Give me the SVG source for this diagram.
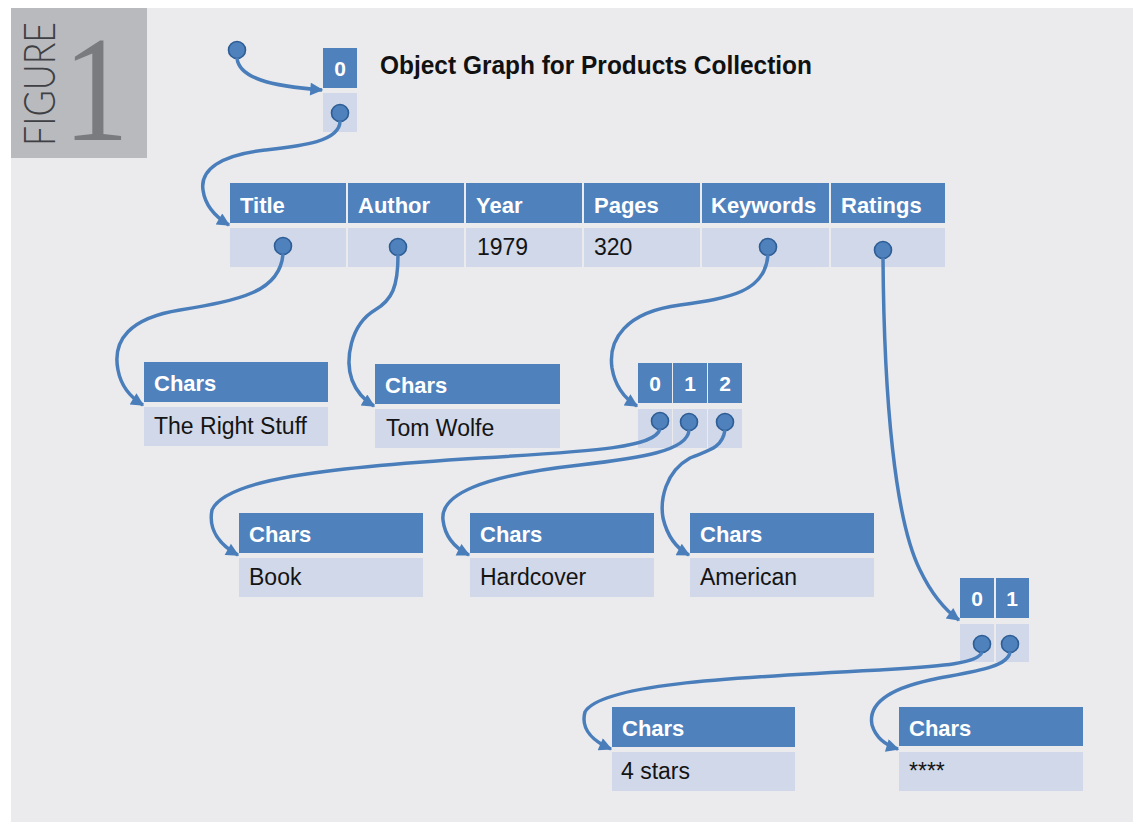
<svg xmlns="http://www.w3.org/2000/svg" width="1133" height="823" viewBox="0 0 1133 823">
<defs>
<style>
.hd{fill:#4f81bd}
.bd{fill:#d0d8e9}
.ht{font-family:"Liberation Sans",Arial,sans-serif;font-weight:bold;font-size:22px;fill:#ffffff}
.bt{font-family:"Liberation Sans",Arial,sans-serif;font-size:23px;fill:#141414}
.ix{font-family:"Liberation Sans",Arial,sans-serif;font-weight:bold;font-size:21px;fill:#ffffff;text-anchor:middle}
.pt{fill:#4f81bd;stroke:#2d5d94;stroke-width:1.6}
.cn path{fill:none;stroke:#4a7ebb;stroke-width:3.5;marker-end:url(#ah)}
</style>
<marker id="ah" viewBox="0 0 10 10" refX="9" refY="5" markerWidth="15" markerHeight="13" markerUnits="userSpaceOnUse" orient="auto">
<path d="M0,0 L10,5 L0,10 z" fill="#4a7ebb"/>
</marker>
</defs>
<rect x="0" y="0" width="1133" height="823" fill="#ffffff"/>
<rect x="11" y="8" width="1122" height="814" fill="#ebebee"/>
<g id="figure-label">
<rect x="11" y="8" width="136" height="150" fill="#b9babd"/>
<text transform="translate(55,146) rotate(-90)" font-family="Lato,'Open Sans',sans-serif" font-weight="300" font-size="44" fill="#3f4043" textLength="124" lengthAdjust="spacingAndGlyphs">FIGURE</text>
<text x="63" y="140" font-family="'Liberation Serif','Times New Roman',serif" font-size="150" fill="#7a7b7f" textLength="66" lengthAdjust="spacingAndGlyphs">1</text>
</g>
<text x="380" y="74" font-family="'Liberation Sans',Arial,sans-serif" font-weight="bold" font-size="26" fill="#111111" textLength="432" lengthAdjust="spacingAndGlyphs">Object Graph for Products Collection</text>

<g id="root">
<circle class="pt" cx="237" cy="50" r="8.5"/>
</g>
<g id="products-array">
<rect class="hd" x="323" y="48" width="34" height="40"/>
<text class="ix" x="340" y="76">0</text>
<rect class="bd" x="323" y="93" width="34" height="39"/>
<circle class="pt" cx="340" cy="113" r="8.5"/>
</g>
<g id="product">
<rect class="hd" x="230" y="183" width="116" height="40"/>
<rect class="hd" x="348" y="183" width="116" height="40"/>
<rect class="hd" x="466" y="183" width="116" height="40"/>
<rect class="hd" x="584" y="183" width="116" height="40"/>
<rect class="hd" x="702" y="183" width="127" height="40"/>
<rect class="hd" x="831" y="183" width="114" height="40"/>
<text class="ht" x="240" y="213">Title</text>
<text class="ht" x="358" y="213">Author</text>
<text class="ht" x="476" y="213">Year</text>
<text class="ht" x="594" y="213">Pages</text>
<text class="ht" x="711" y="213">Keywords</text>
<text class="ht" x="841" y="213">Ratings</text>
<rect class="bd" x="230" y="228" width="116" height="39"/>
<rect class="bd" x="348" y="228" width="116" height="39"/>
<rect class="bd" x="466" y="228" width="116" height="39"/>
<rect class="bd" x="584" y="228" width="116" height="39"/>
<rect class="bd" x="702" y="228" width="127" height="39"/>
<rect class="bd" x="831" y="228" width="114" height="39"/>
<text class="bt" x="477" y="255">1979</text>
<text class="bt" x="594" y="255">320</text>
<circle class="pt" cx="283" cy="246" r="8.5"/>
<circle class="pt" cx="398" cy="247" r="8.5"/>
<circle class="pt" cx="768" cy="247" r="8.5"/>
<circle class="pt" cx="883" cy="250" r="8.5"/>
</g>
<g id="title-chars">
<rect class="hd" x="144" y="362" width="184" height="40"/>
<text class="ht" x="154" y="391">Chars</text>
<rect class="bd" x="144" y="407" width="184" height="39"/>
<text class="bt" x="154" y="434">The Right Stuff</text>
</g>
<g id="author-chars">
<rect class="hd" x="375" y="364" width="185" height="40"/>
<text class="ht" x="385" y="393">Chars</text>
<rect class="bd" x="375" y="409" width="185" height="39"/>
<text class="bt" x="386" y="436">Tom Wolfe</text>
</g>
<g id="keywords-array">
<rect class="hd" x="638" y="363" width="34" height="40"/>
<rect class="hd" x="673" y="363" width="34" height="40"/>
<rect class="hd" x="708" y="363" width="34" height="40"/>
<text class="ix" x="655" y="391">0</text>
<text class="ix" x="690" y="391">1</text>
<text class="ix" x="725" y="391">2</text>
<rect class="bd" x="638" y="409" width="34" height="39"/>
<rect class="bd" x="673" y="409" width="34" height="39"/>
<rect class="bd" x="708" y="409" width="34" height="39"/>
<circle class="pt" cx="660" cy="421" r="8.5"/>
<circle class="pt" cx="689" cy="422" r="8.5"/>
<circle class="pt" cx="725" cy="422" r="8.5"/>
</g>
<g id="book-chars">
<rect class="hd" x="239" y="513" width="184" height="40"/>
<text class="ht" x="249" y="542">Chars</text>
<rect class="bd" x="239" y="558" width="184" height="39"/>
<text class="bt" x="249" y="585">Book</text>
</g>
<g id="hardcover-chars">
<rect class="hd" x="470" y="513" width="184" height="40"/>
<text class="ht" x="480" y="542">Chars</text>
<rect class="bd" x="470" y="558" width="184" height="39"/>
<text class="bt" x="480" y="585">Hardcover</text>
</g>
<g id="american-chars">
<rect class="hd" x="690" y="513" width="184" height="40"/>
<text class="ht" x="700" y="542">Chars</text>
<rect class="bd" x="690" y="558" width="184" height="39"/>
<text class="bt" x="700" y="585">American</text>
</g>
<g id="ratings-array">
<rect class="hd" x="960" y="578" width="34" height="40"/>
<rect class="hd" x="996" y="578" width="33" height="40"/>
<text class="ix" x="977" y="606">0</text>
<text class="ix" x="1012" y="606">1</text>
<rect class="bd" x="960" y="624" width="34" height="38"/>
<rect class="bd" x="996" y="624" width="33" height="38"/>
<circle class="pt" cx="982" cy="644" r="8.5"/>
<circle class="pt" cx="1010" cy="644" r="8.5"/>
</g>
<g id="stars-chars">
<rect class="hd" x="612" y="707" width="183" height="40"/>
<text class="ht" x="622" y="736">Chars</text>
<rect class="bd" x="612" y="752" width="183" height="39"/>
<text class="bt" x="621" y="779">4 stars</text>
</g>
<g id="asterisk-chars">
<rect class="hd" x="899" y="707" width="184" height="39"/>
<text class="ht" x="909" y="736">Chars</text>
<rect class="bd" x="899" y="752" width="184" height="39"/>
<text class="bt" x="909" y="779">****</text>
</g>

<g id="connectors" class="cn">
<path d="M237,58 C239,78 270,86 322,90"/>
<path d="M340,121 C340,142 300,146 265,150 C220,155 200,170 203,190 C205,205 214,216 229,225"/>
<path d="M283,254 C280,292 240,300 180,310 C130,318 112,340 118,370 C121,386 130,397 143,405"/>
<path d="M398,255 C398,287 392,300 375,310 C350,325 345,360 352,380 C357,393 364,400 374,406"/>
<path d="M768,255 C765,292 730,298 680,305 C625,312 608,340 612,368 C615,386 624,398 637,406"/>
<path d="M883,258 C884,400 895,520 920,570 C932,595 945,610 959,620"/>
<path d="M660,429 C655,447 600,451 480,458 C320,468 225,480 212,510 C208,530 220,545 238,555"/>
<path d="M689,430 C688,451 640,458 580,465 C480,476 440,495 443,520 C445,538 455,548 469,555"/>
<path d="M725,430 C722,450 705,451 690,458 C665,472 660,500 663,518 C667,535 676,548 689,555"/>
<path d="M982,652 C978,664 940,666 880,670 C720,678 600,685 585,712 C580,730 595,742 611,749"/>
<path d="M1010,652 C1008,668 970,672 930,680 C885,690 868,705 872,725 C876,738 885,745 898,749"/>
</g>
</svg>
